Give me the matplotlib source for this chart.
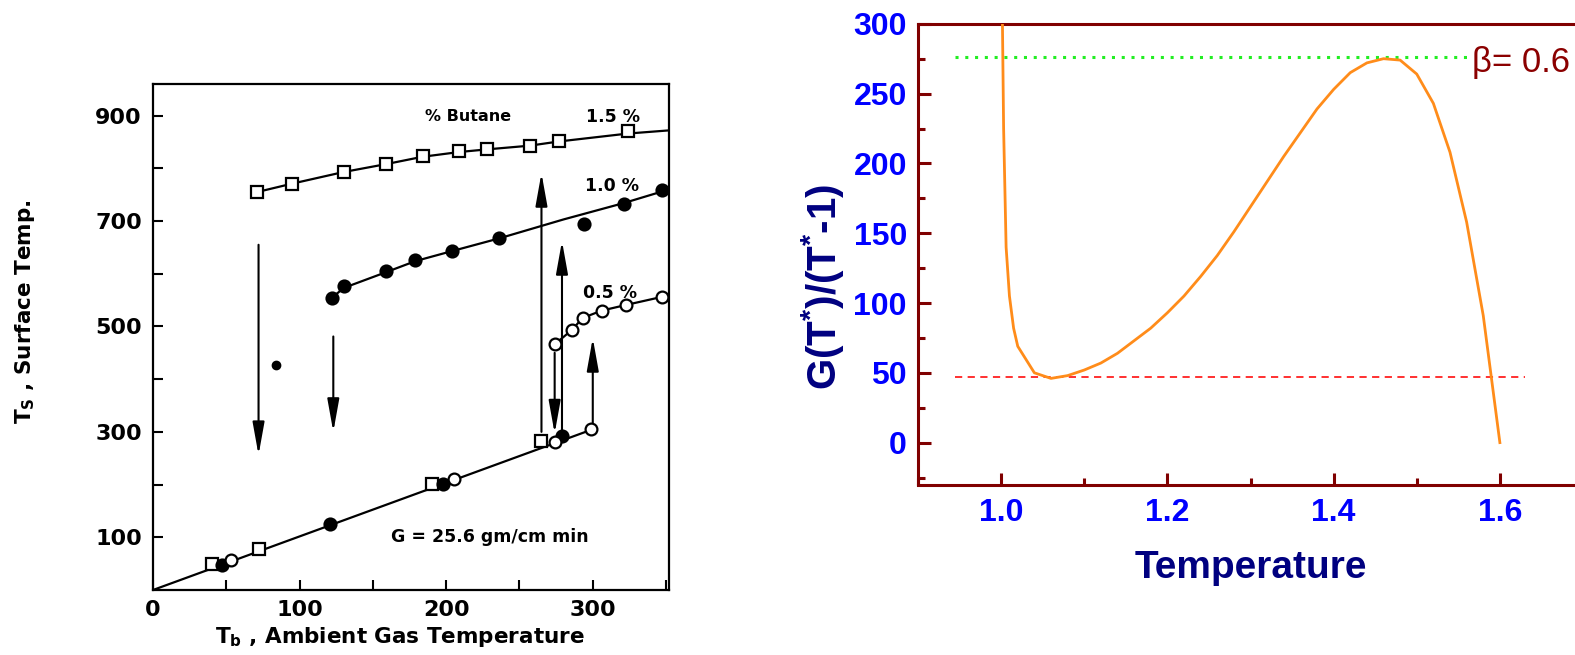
import matplotlib
matplotlib.use("Agg")
import matplotlib.pyplot as plt
from matplotlib import font_manager
from matplotlib.ticker import MultipleLocator, FixedLocator

# ---------------- data: left panel (scanned butane ignition data) ----------------
# 1.5 % butane (upper branch, open squares)
b15_x = [71, 95, 130, 159, 184, 209, 228, 257, 277, 324]
b15_y = [755, 771, 793, 808, 823, 832, 837, 843, 852, 870]
b15_fit_x = [71, 95, 130, 159, 184, 209, 228, 257, 277, 324, 352]
b15_fit_y = [755, 771, 793, 808, 822, 831, 836, 843, 851, 866, 872]
# 1.0 % butane (upper branch, filled circles)
b10_x = [122, 130, 159, 179, 204, 236, 294, 321, 347]
b10_y = [554, 577, 606, 626, 644, 668, 695, 732, 758]
b10_fit_x = [122, 130, 159, 179, 204, 236, 280, 321, 352]
b10_fit_y = [554, 573, 603, 624, 643, 667, 703, 734, 760]
# 0.5 % butane (upper branch, open circles)
b05_x = [274, 286, 293, 306, 323, 347]
b05_y = [466, 494, 516, 530, 541, 556]
# lower (non-ignited) branch
low_sq_x = [40, 72, 190, 265]
low_sq_y = [49, 77, 202, 283]
low_fc_x = [47, 121, 198, 279]
low_fc_y = [48, 126, 202, 292]
low_oc_x = [53, 205, 274, 299]
low_oc_y = [57, 210, 281, 305]
low_fit_x = [0, 300]
low_fit_y = [0, 305]
stray_x = [84]
stray_y = [427]
# transition arrows: (x, y_start, y_end)
arrow_x = [72, 123, 265, 274, 279, 300]
arrow_y0 = [655, 481, 300, 450, 304, 314]
arrow_y1 = [256, 300, 791, 297, 662, 478]

# ---------------- data: right panel ----------------
T_vals = [1.0015, 1.003, 1.006, 1.01, 1.015, 1.02, 1.04, 1.06, 1.08, 1.10, 1.12, 1.14,
          1.16, 1.18, 1.20, 1.22, 1.24, 1.26, 1.28, 1.30, 1.32, 1.34, 1.36,
          1.38, 1.40, 1.42, 1.44, 1.46, 1.48, 1.50, 1.52, 1.54, 1.56, 1.58, 1.60]
G_vals = [305, 225, 140, 105, 82, 69, 50, 46, 48, 52, 57, 64,
          73, 82, 93, 105, 119, 134, 151, 169, 187, 205, 222,
          239, 253, 265, 272, 275, 274, 264, 243, 208, 158, 91, 0]
g_max_level = 276.5
g_min_level = 47
beta_label = "\u03b2= 0.6"

# ---------------- fonts ----------------
names = {f.name for f in font_manager.fontManager.ttflist}
narrow = "Liberation Sans Narrow" if "Liberation Sans Narrow" in names else "Liberation Sans"
plt.rcParams["mathtext.fontset"] = "custom"
plt.rcParams["mathtext.rm"] = narrow + ":bold"
plt.rcParams["mathtext.it"] = narrow + ":bold"
plt.rcParams["mathtext.bf"] = narrow + ":bold"
plt.rcParams["mathtext.sf"] = narrow + ":bold"

fig = plt.figure(figsize=(15.75, 6.55), dpi=100)
fig.patch.set_facecolor("white")

# ================= LEFT PANEL =================
axL = fig.add_axes([153 / 1575, 1 - 590 / 655, 516 / 1575, 506 / 655])
axL.set_xlim(0, 352)
axL.set_ylim(0, 960)
for s in axL.spines.values():
    s.set_linewidth(1.6)
    s.set_color("black")
lf = dict(family="DejaVu Sans", weight="bold")

axL.plot(low_fit_x, low_fit_y, "-", color="k", lw=1.6, zorder=2)
axL.plot(b15_fit_x, b15_fit_y, "-", color="k", lw=1.6, zorder=2)
axL.plot(b10_fit_x, b10_fit_y, "-", color="k", lw=1.6, zorder=2)
axL.plot(b05_x, b05_y, "-", color="k", lw=1.6, zorder=2)

sq = dict(marker="s", ms=9, mfc="white", mec="k", mew=1.6, ls="none", zorder=4)
oc = dict(marker="o", ms=8.5, mfc="white", mec="k", mew=1.6, ls="none", zorder=4)
fc = dict(marker="o", ms=9, mfc="k", mec="k", mew=1.2, ls="none", zorder=4)
axL.plot(b15_x, b15_y, **sq)
axL.plot(b10_x, b10_y, **fc)
axL.plot(b05_x, b05_y, **oc)
axL.plot(low_sq_x, low_sq_y, **sq)
axL.plot(low_fc_x, low_fc_y, **fc)
axL.plot(low_oc_x, low_oc_y, **oc)
axL.plot(stray_x, stray_y, marker="o", ms=6, mfc="k", mec="k", ls="none", zorder=4)

for x, y0, y1 in zip(arrow_x, arrow_y0, arrow_y1):
    axL.annotate("", xy=(x, y1), xytext=(x, y0),
                 arrowprops=dict(arrowstyle="-|>,head_length=1.0,head_width=0.18",
                                 mutation_scale=20, lw=1.5, color="k",
                                 shrinkA=0, shrinkB=0), zorder=3)

axL.text(215, 898, "% Butane", ha="center", va="center", fontsize=11.5, **lf)
axL.text(314, 898, "1.5 %", ha="center", va="center", fontsize=12.5, **lf)
axL.text(313, 766, "1.0 %", ha="center", va="center", fontsize=12.5, **lf)
axL.text(312, 563, "0.5 %", ha="center", va="center", fontsize=12.5, **lf)
axL.text(230, 100, "G = 25.6 gm/cm min", ha="center", va="center", fontsize=12.5, **lf)

axL.xaxis.set_major_locator(FixedLocator([0, 100, 200, 300]))
axL.xaxis.set_minor_locator(FixedLocator([50, 150, 250, 350]))
axL.yaxis.set_major_locator(FixedLocator([100, 300, 500, 700, 900]))
axL.yaxis.set_minor_locator(FixedLocator([200, 400, 600, 800]))
axL.tick_params(which="both", direction="in", length=7, width=1.5, color="k")
axL.tick_params(axis="y", pad=8)
axL.tick_params(axis="x", pad=7)
axL.set_xticklabels(["0", "100", "200", "300"])
axL.set_yticklabels(["100", "300", "500", "700", "900"])
for lab in axL.get_xticklabels() + axL.get_yticklabels():
    lab.set_fontfamily("DejaVu Sans")
    lab.set_fontweight("bold")
    lab.set_fontsize(16)

fig.text(400 / 1575, 1 - 637 / 655, r"T$_\mathbf{b}$ , Ambient Gas Temperature",
         ha="center", va="center", fontsize=15.5, math_fontfamily="dejavusans", **lf)
fig.text(25 / 1575, 1 - 312 / 655, r"T$_\mathbf{S}$ , Surface Temp.", rotation=90,
         ha="center", va="center", fontsize=15.5, math_fontfamily="dejavusans", **lf)

# ================= RIGHT PANEL =================
maroon = "#800000"
axR = fig.add_axes([918 / 1575, 1 - 484.5 / 655, 665 / 1575, 460.7 / 655])
axR.set_xlim(0.9, 1.7)
axR.set_ylim(-30, 300)
for s in axR.spines.values():
    s.set_linewidth(2.2)
    s.set_color(maroon)

axR.plot([0.945, 1.563], [g_max_level, g_max_level], ls=(0, (1, 2.2)), color="#22EE22",
         lw=2.2, zorder=2)
axR.plot([0.945, 1.63], [g_min_level, g_min_level], ls=(0, (4, 3)), color="#FF2020",
         lw=1.3, zorder=2)
axR.plot(T_vals, G_vals, "-", color="#FF8C1A", lw=2.0, zorder=3, clip_on=True)

axR.text(1.566, 272, beta_label, ha="left", va="center", fontsize=25,
         color="#8B0000", family="Liberation Sans")

axR.xaxis.set_major_locator(FixedLocator([1.0, 1.2, 1.4, 1.6]))
axR.xaxis.set_minor_locator(FixedLocator([0.9, 1.1, 1.3, 1.5]))
axR.yaxis.set_major_locator(MultipleLocator(50))
axR.yaxis.set_minor_locator(MultipleLocator(25))
axR.tick_params(which="major", direction="in", length=9, width=2.2, color=maroon)
axR.tick_params(which="minor", direction="in", length=5, width=2.2, color=maroon)
axR.tick_params(axis="y", which="major", pad=8, labelsize=23, labelcolor="#0000FF")
axR.tick_params(axis="x", which="major", pad=10, labelsize=23, labelcolor="#0000FF")
axR.set_xticklabels(["1.0", "1.2", "1.4", "1.6"])
for lab in axR.get_xticklabels() + axR.get_yticklabels():
    lab.set_fontfamily(narrow)
    lab.set_fontweight("bold")

fig.text(1251 / 1575, 1 - 568 / 655, "Temperature", ha="center", va="center",
         fontsize=28, color="#000080", family=narrow, weight="bold")
fig.text(822 / 1575, 1 - 287 / 655, r"G(T$^{*}$)/(T$^{*}$-1)", rotation=90,
         ha="center", va="center", fontsize=29, color="#000080", family=narrow,
         weight="bold", math_fontfamily="custom")

fig.savefig("out.png", dpi=100, facecolor="white")
